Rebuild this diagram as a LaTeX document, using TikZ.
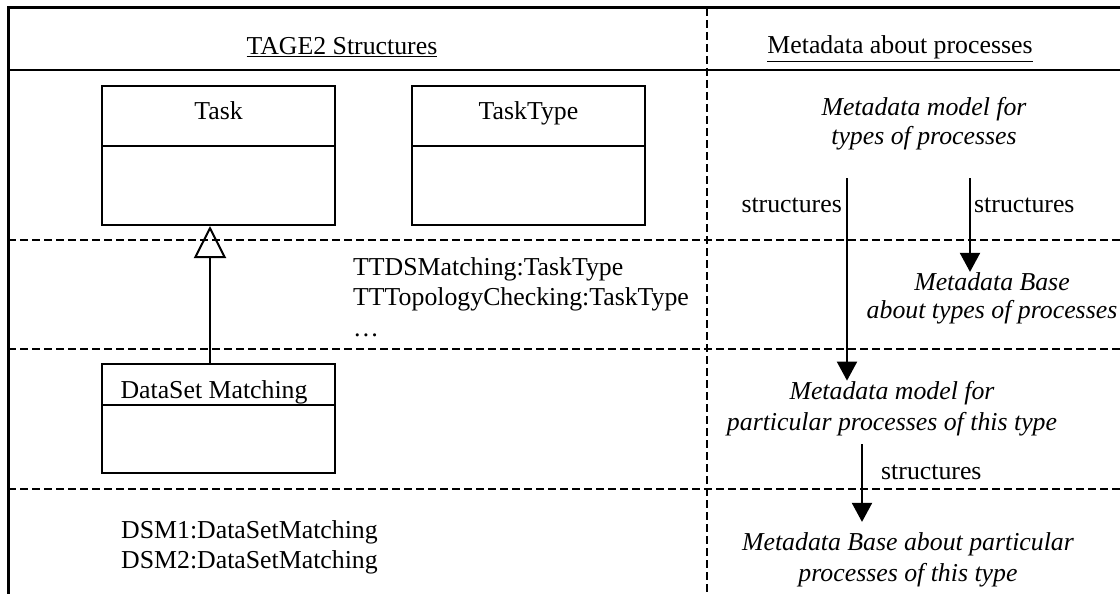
\documentclass[tikz,border=0pt]{standalone}
\usepackage{fontspec}
\setmainfont{Liberation Serif}
\usetikzlibrary{arrows.meta}

\begin{document}
\begin{tikzpicture}[x=1pt,y=-1pt,
    font=\fontsize{25.8}{30}\selectfont,
    every node/.style={inner sep=0pt},
    umlclass/.style={draw,line width=2pt,minimum width=233pt},
    mtext/.style={align=center,font=\fontsize{25.8}{30}\selectfont\itshape},
    flow/.style={line width=2pt,-{Triangle[length=19pt,width=20pt]}},
    rowline/.style={line width=1.3pt,dash pattern=on 8pt off 4pt}]
    \useasboundingbox (0,0) rectangle (1120,594);

    % frame and rows
    \draw[line width=3pt] (8,594) -- (8,8) -- (1120,8);
    \draw[line width=2pt] (8,70) -- (1120,70);
    \draw[rowline] (707,8) -- (707,594);
    \draw[rowline] (8,240) -- (1120,240);
    \draw[rowline] (8,349) -- (1120,349);
    \draw[rowline] (8,489) -- (1120,489);

    \node[anchor=base] (tagehead) at (342,55) {\underline{TAGE2 Structures}};
    \node[anchor=base] (metahead) at (900,54) {\underline{Metadata about processes}};

    % classes
    \node[umlclass,minimum height=139pt] (task) at (218.5,155.5) {};
    \draw[line width=2pt] ([yshift=-61pt]task.north west) -- ([yshift=-61pt]task.north east);
    \node[anchor=base] (tasklbl) at ([yshift=-34pt]task.north) {Task};

    \node[umlclass,minimum height=139pt] (tasktype) at (528.5,155.5) {};
    \draw[line width=2pt] ([yshift=-61pt]tasktype.north west) -- ([yshift=-61pt]tasktype.north east);
    \node[anchor=base] (tasktypelbl) at ([yshift=-34pt]tasktype.north) {TaskType};

    \node[umlclass,minimum height=109pt] (dsm) at (218.5,418.5) {};
    \draw[line width=2pt] ([yshift=-42pt]dsm.north west) -- ([yshift=-42pt]dsm.north east);
    \node[anchor=base] (dsmlbl) at ([xshift=-4.5pt,yshift=-35pt]dsm.north) {DataSet Matching};

    \draw[line width=2pt,-{Triangle[open,length=32pt,width=32pt]}] ([xshift=-8.5pt]dsm.north) -- ([xshift=-8.5pt]task.south);

    % instances
    \node[anchor=base west,align=left] (ttlist) at (353,336) {TTDSMatching:TaskType\\TTTopologyChecking:TaskType\\[1pt]\ldots};
    \node[anchor=base west,align=left] (dsmlist) at (121,568) {DSM1:DataSetMatching\\DSM2:DataSetMatching};

    % metadata side
    \node[mtext,anchor=base] (mmtypes) at (924,144) {Metadata model for\\[-1pt]types of processes};
    \node[mtext,anchor=base] (mbtypes) at (992,318) {Metadata Base\\[-2pt]about types of processes};
    \node[mtext,anchor=base] (mmpart) at (892,430) {Metadata model for\\[1pt]particular processes of this type};
    \node[mtext,anchor=base] (mbpart) at (908,581) {Metadata Base about particular\\[1pt]processes of this type};

    \coordinate (s1) at (847,178);
    \coordinate (s2) at (970,178);
    \coordinate (s3) at (862,444);
    \draw[flow] (s1) -- (s1 |- mmpart.north);
    \draw[flow] (s2) -- (s2 |- mbtypes.north);
    \draw[flow,shorten >=10pt] (s3) -- (s3 |- mbpart.north);

    \node[anchor=base east] (st1) at (842,212) {structures};
    \node[anchor=base west] (st2) at (974,212) {structures};
    \node[anchor=base west] (st3) at (881,479) {structures};
\end{tikzpicture}
\end{document}
